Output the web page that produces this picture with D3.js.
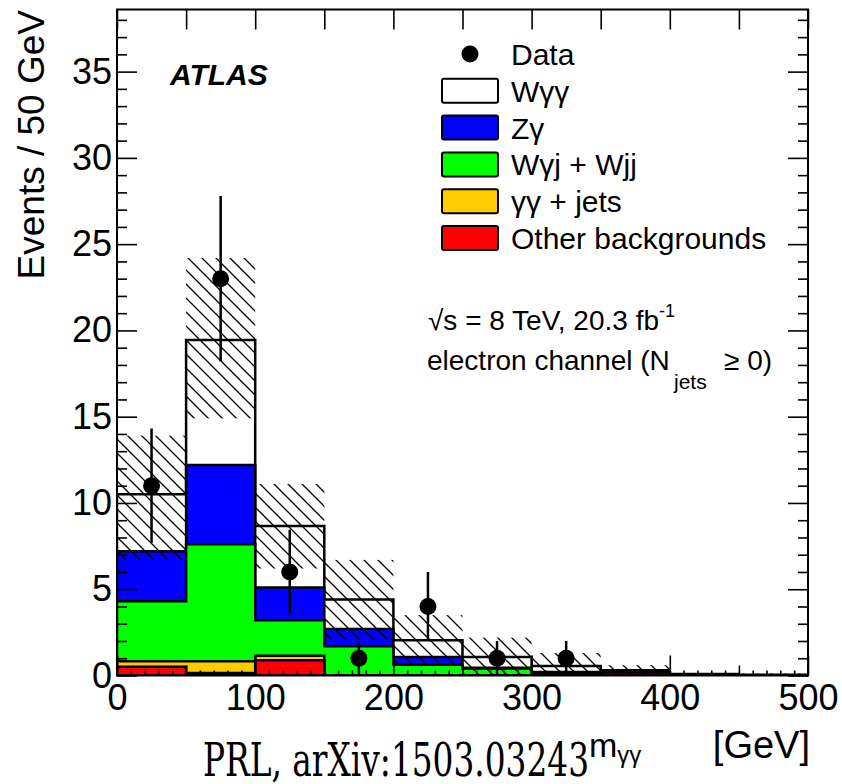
<!DOCTYPE html>
<html>
<head>
<meta charset="utf-8">
<script src="https://cdn.jsdelivr.net/npm/d3@7"></script>
<style>
  body { margin: 0; background: #fff; }
  svg { display: block; font-family: "Liberation Sans", Arial, sans-serif; }
</style>
</head>
<body>
<svg id="chart" width="842" height="784"></svg>
<script>
// bin low edges, 50 GeV wide
const binLow = [0, 50, 100, 150, 200, 250, 300, 350, 400, 450];
const binWidth = 50;

// stacked components (events per bin), bottom to top
const otherBkg      = [0.50, 0.15, 0.88, 0.00, 0.00, 0.00, 0.00, 0.17, 0.00, 0.00];
const gammaGammaJet = [0.32, 0.67, 0.27, 0.00, 0.00, 0.00, 0.00, 0.00, 0.00, 0.00];
const wGammaJet     = [3.48, 6.78, 2.05, 1.70, 0.63, 0.40, 0.15, 0.00, 0.00, 0.00];
const zGamma        = [2.90, 4.60, 1.90, 1.00, 0.44, 0.05, 0.05, 0.00, 0.00, 0.00];
const wGammaGamma   = [3.30, 7.25, 3.57, 1.70, 0.98, 0.62, 0.35, 0.13, 0.08, 0.05];

// total uncertainty band
const uncLow  = [6.7, 14.9, 6.2, 2.1, 0.6, 0.0, 0.0, 0.0, 0.0, 0.0];
const uncHigh = [13.9, 24.2, 11.1, 6.7, 3.5, 2.2, 1.3, 0.6, 0.1, 0.12];

// observed events
const dataCounts = [11, 23, 6, 1, 4, 1, 1, 0, 0, 0];

const xTicks = [0, 100, 200, 300, 400, 500];
const yTicks = [0, 5, 10, 15, 20, 25, 30, 35];

const legendNames = ["W\u03b3\u03b3", "Z\u03b3", "W\u03b3j + Wjj", "\u03b3\u03b3 + jets", "Other backgrounds"];
const stackColors = ["#ffffff", "#0000ff", "#00ff00", "#ffcc00", "#ff0000"];

const plotLeft = 117, plotRight = 808, plotTop = 9.5, plotBottom = 675.5;

const svg = d3.select("#chart");

const x = d3.scaleLinear().domain([0, 500]).range([plotLeft, plotRight]);
const y = d3.scaleLinear().domain([0, 38.6]).range([plotBottom, plotTop]);

// hatch pattern for the uncertainty
const defs = svg.append("defs");
defs.append("pattern")
  .attr("id", "hatch")
  .attr("patternUnits", "userSpaceOnUse")
  .attr("width", 14).attr("height", 14)
  .append("path")
  .attr("d", "M-2,-2 L16,16 M-9,5 L9,23 M5,-9 L23,9")
  .attr("stroke", "#000")
  .attr("stroke-width", 1.3);

defs.append("clipPath").attr("id", "plotclip")
  .append("rect")
  .attr("x", plotLeft).attr("y", plotTop)
  .attr("width", plotRight - plotLeft).attr("height", plotBottom - plotTop);

// cumulative stacks, top layer first (like THStack)
const layers = [wGammaGamma, zGamma, wGammaJet, gammaGammaJet, otherBkg];
const cumulative = [];
for (let l = 0; l < layers.length; l++) {
  cumulative.push(binLow.map((b, i) => {
    let s = 0;
    for (let k = l; k < layers.length; k++) s += layers[k][i];
    return s;
  }));
}

const area = d3.area()
  .curve(d3.curveStepAfter)
  .x(d => x(d[0]))
  .y0(y(0))
  .y1(d => y(d[1]));

const plot = svg.append("g").attr("clip-path", "url(#plotclip)");

cumulative.forEach((vals, l) => {
  let pts = binLow.map((b, i) => [b, vals[i]]);
  pts.push([binLow[binLow.length - 1] + binWidth, vals[vals.length - 1]]);
  plot.append("path")
    .attr("d", area(pts))
    .attr("fill", stackColors[l])
    .attr("stroke", "#000")
    .attr("stroke-width", 2.5)
    .attr("stroke-linejoin", "miter");
});

// uncertainty band
plot.selectAll(".unc")
  .data(binLow)
  .enter()
  .append("rect")
  .attr("class", "unc")
  .attr("x", d => x(d))
  .attr("width", d => x(d + binWidth) - x(d))
  .attr("y", (d, i) => y(uncHigh[i]))
  .attr("height", (d, i) => y(uncLow[i]) - y(uncHigh[i]))
  .attr("fill", "url(#hatch)");

// axes, ticks pointing inwards
function tickRange(a, b, step, skip) {
  let out = [];
  for (let v = a; v <= b + 1e-9; v += step) {
    if (!skip || Math.abs(v / skip - Math.round(v / skip)) > 1e-6) out.push(+v.toFixed(3));
  }
  return out;
}

function styleAxis(g) {
  g.select(".domain").remove();
  g.selectAll("line").attr("stroke", "#000").attr("stroke-width", 1.6);
  g.selectAll("text").attr("fill", "#000").style("font-size", "36px");
}

svg.append("g")
  .attr("transform", `translate(0,${plotBottom})`)
  .call(d3.axisBottom(x).tickValues(xTicks).tickSize(-20).tickPadding(9).tickFormat(d3.format("d")))
  .call(styleAxis);
svg.append("g")
  .attr("transform", `translate(0,${plotBottom})`)
  .call(d3.axisBottom(x).tickValues(tickRange(50, 450, 100)).tickSize(-10).tickFormat(""))
  .call(styleAxis);
svg.append("g")
  .attr("transform", `translate(0,${plotBottom})`)
  .call(d3.axisBottom(x).tickValues(tickRange(0, 500, 10, 50)).tickSize(-5).tickFormat(""))
  .call(styleAxis);
svg.append("g")
  .attr("transform", `translate(0,${plotTop})`)
  .call(d3.axisTop(x).tickValues(tickRange(0, 500, 50)).tickSize(-20).tickFormat(""))
  .call(styleAxis);

svg.append("g")
  .attr("transform", `translate(${plotLeft},0)`)
  .call(d3.axisLeft(y).tickValues(yTicks).tickSize(-20).tickPadding(5).tickFormat(d3.format("d")))
  .call(styleAxis);
svg.append("g")
  .attr("transform", `translate(${plotLeft},0)`)
  .call(d3.axisLeft(y).tickValues(tickRange(0, 38, 1, 5)).tickSize(-10).tickFormat(""))
  .call(styleAxis);
svg.append("g")
  .attr("transform", `translate(${plotRight},0)`)
  .call(d3.axisRight(y).tickValues(yTicks).tickSize(-20).tickFormat(""))
  .call(styleAxis);
svg.append("g")
  .attr("transform", `translate(${plotRight},0)`)
  .call(d3.axisRight(y).tickValues(tickRange(0, 38, 1, 5)).tickSize(-10).tickFormat(""))
  .call(styleAxis);

// frame
svg.append("rect")
  .attr("x", plotLeft).attr("y", plotTop)
  .attr("width", plotRight - plotLeft).attr("height", plotBottom - plotTop)
  .attr("fill", "none")
  .attr("stroke", "#000")
  .attr("stroke-width", 2);

// data points with sqrt(N) errors
const shown = binLow.map((b, i) => ({ x: b + binWidth / 2, n: dataCounts[i] })).filter(d => d.n > 0);
svg.selectAll(".err")
  .data(shown)
  .enter()
  .append("line")
  .attr("x1", d => x(d.x)).attr("x2", d => x(d.x))
  .attr("y1", d => y(Math.max(0, d.n - Math.sqrt(d.n))))
  .attr("y2", d => y(d.n + Math.sqrt(d.n)))
  .attr("stroke", "#000")
  .attr("stroke-width", 2.5);
svg.selectAll(".pt")
  .data(shown)
  .enter()
  .append("circle")
  .attr("cx", d => x(d.x))
  .attr("cy", d => y(d.n))
  .attr("r", 8.5)
  .attr("fill", "#000");

// axis titles
svg.append("text")
  .attr("transform", "translate(44,10) rotate(-90)")
  .attr("text-anchor", "end")
  .style("font-size", "37px")
  .text("Events / 50 GeV");

const xt = svg.append("text")
  .attr("x", 589).attr("y", 757)
  .style("font-size", "34px");
xt.append("tspan").text("m");
xt.append("tspan").attr("dy", 6).style("font-size", "24px").text("\u03b3\u03b3");
svg.append("text")
  .attr("x", 810).attr("y", 758)
  .attr("text-anchor", "end")
  .style("font-size", "38px")
  .text("[GeV]");

svg.append("text")
  .attr("x", 203).attr("y", 776)
  .attr("textLength", 386)
  .attr("lengthAdjust", "spacingAndGlyphs")
  .style("font-family", "'DejaVu Serif', 'Liberation Serif', serif")
  .style("font-size", "46px")
  .text("PRL, arXiv:1503.03243");

// ATLAS label
svg.append("text")
  .attr("x", 170).attr("y", 85)
  .style("font-size", "30px")
  .style("font-weight", "bold")
  .style("font-style", "italic")
  .text("ATLAS");

// legend
const legend = svg.append("g");
const rowH = 36.8;
legend.append("circle").attr("cx", 470).attr("cy", 54).attr("r", 8.5).attr("fill", "#000");
legend.append("text").attr("x", 511).attr("y", 65).style("font-size", "30px").text("Data");
legendNames.forEach((name, i) => {
  let cy = 54 + (i + 1) * rowH;
  legend.append("rect")
    .attr("x", 442).attr("y", cy - 12)
    .attr("width", 56).attr("height", 24)
    .attr("rx", 2)
    .attr("fill", stackColors[i])
    .attr("stroke", "#000")
    .attr("stroke-width", 2);
  legend.append("text")
    .attr("x", 511).attr("y", cy + 11)
    .style("font-size", "30px")
    .text(name);
});

// energy / channel text
const t1 = svg.append("text").attr("x", 428).attr("y", 330).style("font-size", "28px");
t1.append("tspan").text("\u221as = 8 TeV, 20.3 fb");
t1.append("tspan").attr("dy", -13).style("font-size", "18px").text("-1");

const t2 = svg.append("text").attr("x", 427).attr("y", 370).style("font-size", "28px");
t2.append("tspan").text("electron channel (N");
t2.append("tspan").attr("x", 674).attr("dy", 19).style("font-size", "21px").text("jets");
t2.append("tspan").attr("x", 724).attr("dy", -19).text("\u2265 0)");
</script>
</body>
</html>
